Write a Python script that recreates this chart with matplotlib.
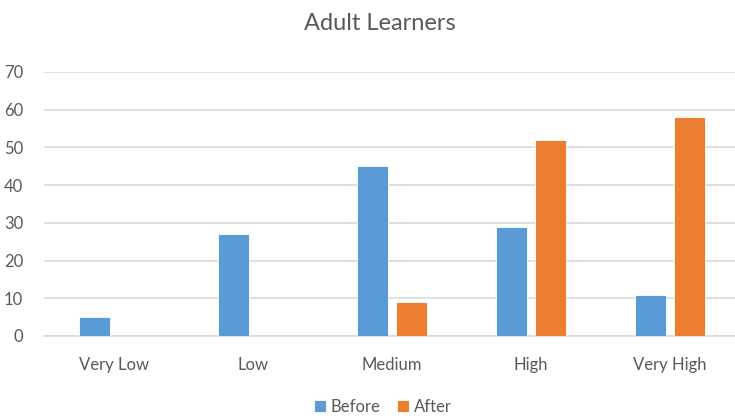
import matplotlib
matplotlib.use("Agg")
import matplotlib.pyplot as plt
import numpy as np

categories = ["Very Low", "Low", "Medium", "High", "Very High"]
before = [5, 27, 45, 29, 11]
after = [0, 0, 9, 52, 58]
yticks = [0, 10, 20, 30, 40, 50, 60, 70]

plt.rcParams['font.family'] = ['Lato', 'DejaVu Sans']
W, H = 735, 418
fig = plt.figure(figsize=(W/100, H/100), dpi=100)
ax = fig.add_axes([44/W, (H-336)/H, (735-44)/W, (336-72)/H])

x = np.arange(len(categories))
bw = 0.223
off = 0.14
blue = "#5B9BD5"
orange = "#ED7D31"
ax.bar(x - off, before, bw, color=blue, edgecolor="white", linewidth=0.6, label="Before", zorder=3)
ax.bar(x + off, after, bw, color=orange, edgecolor="white", linewidth=0.6, label="After", zorder=3)

ax.set_xlim(-0.5, -0.5 + 691/139.1)
ax.set_ylim(0, 70)
ax.set_yticks(yticks)
ax.set_xticks(x)
ax.set_xticklabels(categories)
ax.grid(axis="y", color="#D9D9D9", linewidth=1.2, zorder=0)
for s in ["top", "right", "left"]:
    ax.spines[s].set_visible(False)
ax.spines["bottom"].set_color("#D9D9D9")
ax.spines["bottom"].set_linewidth(1.2)
ax.tick_params(axis="both", length=0, labelsize=12, colors="#595959")
ax.tick_params(axis="x", pad=15)
ax.tick_params(axis="y", pad=15)

fig.text(380/W, 1 - 24/H, "Adult Learners", ha="center", va="center", fontsize=17, color="#595959")

leg = fig.legend(loc="center", bbox_to_anchor=(383/W, 1 - 407/H), ncol=2, frameon=False,
                 fontsize=12, handlelength=0.7, handleheight=0.7, handletextpad=0.3,
                 columnspacing=1.0)
for t in leg.get_texts():
    t.set_color("#595959")

fig.savefig("out.png", dpi=100)
